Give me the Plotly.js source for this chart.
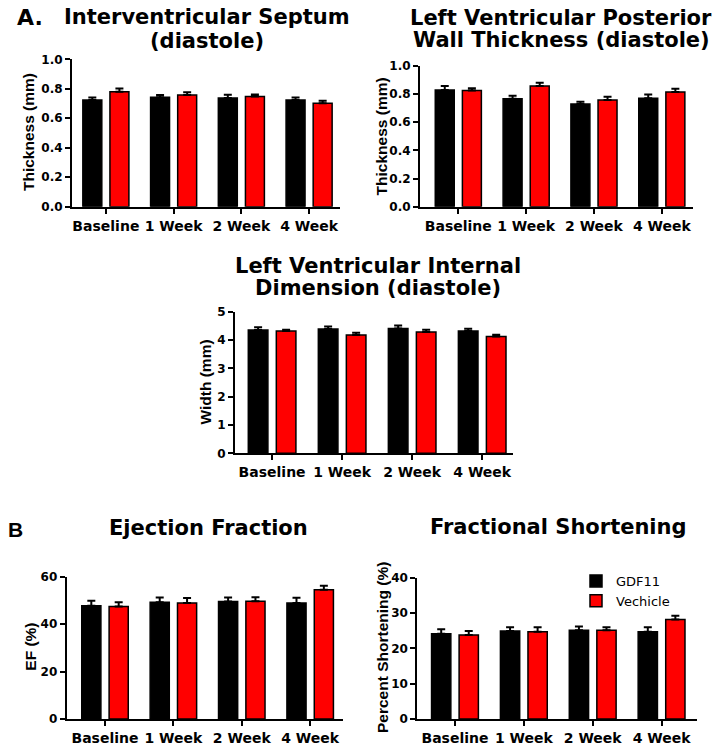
<!DOCTYPE html>
<html><head><meta charset="utf-8">
<script src="https://cdn.plot.ly/plotly-3.0.1.min.js"></script>
<style>html,body{margin:0;padding:0;background:#fff}</style>
</head><body><div id="chart" style="width:721px;height:745px"></div>
<script>
// ---- data ----
const categories = ['Baseline', '1 Week', '2 Week', '4 Week'];
const seriesNames = ['GDF11', 'Vechicle'];
const seriesColors = ['#000000', '#ff0000'];

const ivsGdf11 = [0.724, 0.742, 0.737, 0.724];
const ivsGdf11Err = [0.016, 0.015, 0.022, 0.016];
const ivsVehicle = [0.780, 0.758, 0.748, 0.701];
const ivsVehicleErr = [0.022, 0.018, 0.014, 0.018];

const lvpwGdf11 = [0.829, 0.768, 0.730, 0.770];
const lvpwGdf11Err = [0.028, 0.021, 0.016, 0.028];
const lvpwVehicle = [0.825, 0.858, 0.758, 0.815];
const lvpwVehicleErr = [0.017, 0.023, 0.024, 0.024];

const lvidGdf11 = [4.35, 4.39, 4.41, 4.32];
const lvidGdf11Err = [0.10, 0.09, 0.10, 0.08];
const lvidVehicle = [4.32, 4.18, 4.28, 4.12];
const lvidVehicleErr = [0.04, 0.08, 0.08, 0.07];

const efGdf11 = [47.8, 49.2, 49.5, 48.9];
const efGdf11Err = [2.1, 2.0, 1.7, 2.2];
const efVehicle = [47.4, 48.9, 49.7, 54.5];
const efVehicleErr = [1.8, 2.1, 1.6, 1.7];

const fsGdf11 = [24.1, 24.9, 25.1, 24.7];
const fsGdf11Err = [1.3, 1.1, 1.1, 1.3];
const fsVehicle = [23.8, 24.7, 25.1, 28.2];
const fsVehicleErr = [1.1, 1.3, 0.9, 1.0];

const panelTitles = [
  ['Interventricular Septum', '(diastole)'],
  ['Left Ventricular Posterior', 'Wall Thickness (diastole)'],
  ['Left Ventricular Internal', 'Dimension (diastole)'],
  ['Ejection Fraction'],
  ['Fractional Shortening']
];
const yTitles = ['Thickness (mm)', 'Thickness (mm)', 'Width (mm)', 'EF (%)', 'Percent Shortening (%)'];
const yMax = [1, 1, 5, 60, 40];
const yStep = [0.2, 0.2, 1, 20, 10];
const yFormat = ['.1f', '.1f', 'd', 'd', 'd'];

// ---- layout geometry (pixels) ----
const W = 721, H = 745;
const px = v => v / W;
const py = v => (H - v) / H;
const panels = [
  {x0: 72, x1: 340, y0: 59.3, y1: 206.7, xr: [-0.5, 3.456],
   titleX: 207, titleY: [16.7, 41], yTitleX: 28, yTitleY: 132},
  {x0: 420, x1: 693, y0: 66, y1: 206.7, xr: [-0.565, 3.46],
   titleX: 561, titleY: [17.5, 40], yTitleX: 381.7, yTitleY: 136.7},
  {x0: 235, x1: 513, y0: 311.7, y1: 453.3, xr: [-0.53, 3.44],
   titleX: 377.5, titleY: [265.8, 288], yTitleX: 205, yTitleY: 382.5},
  {x0: 66.7, x1: 343, y0: 576.7, y1: 719, xr: [-0.56, 3.48],
   titleX: 208, titleY: [527.5], yTitleX: 31, yTitleY: 646.7},
  {x0: 417.3, x1: 696.7, y0: 577.7, y1: 719, xr: [-0.547, 3.51],
   titleX: 558, titleY: [527], yTitleX: 382.5, yTitleY: 647.5}
];
const panelData = [
  [[ivsGdf11, ivsGdf11Err], [ivsVehicle, ivsVehicleErr]],
  [[lvpwGdf11, lvpwGdf11Err], [lvpwVehicle, lvpwVehicleErr]],
  [[lvidGdf11, lvidGdf11Err], [lvidVehicle, lvidVehicleErr]],
  [[efGdf11, efGdf11Err], [efVehicle, efVehicleErr]],
  [[fsGdf11, fsGdf11Err], [fsVehicle, fsVehicleErr]]
];

const traces = [];
const layout = {
  width: W, height: H,
  margin: {l: 0, r: 0, t: 0, b: 0},
  paper_bgcolor: '#ffffff', plot_bgcolor: '#ffffff',
  barmode: 'group', bargap: 0.2, bargroupgap: 0.3,
  showlegend: true,
  legend: {
    x: px(576), y: py(566), xanchor: 'left', yanchor: 'top',
    bgcolor: 'rgba(0,0,0,0)', tracegroupgap: 0,
    font: {family: 'DejaVu Sans', size: 13, color: '#000'}
  },
  annotations: [],
  font: {family: 'DejaVu Sans', color: '#000'}
};

panels.forEach((p, i) => {
  const n = i === 0 ? '' : String(i + 1);
  panelData[i].forEach((s, k) => {
    traces.push({
      type: 'bar', name: seriesNames[k], x: categories, y: s[0],
      xaxis: 'x' + n, yaxis: 'y' + n,
      legendgroup: seriesNames[k], showlegend: i === 4,
      marker: {color: seriesColors[k], line: {color: '#000', width: 1.5}},
      error_y: {type: 'data', symmetric: false, array: s[1],
        arrayminus: s[1].map(() => 0), color: '#000', thickness: 2, width: 4},
      hoverinfo: 'x+y'
    });
  });
  layout['xaxis' + n] = {
    domain: [px(p.x0), px(p.x1)], anchor: 'y' + n, type: 'category',
    range: p.xr, showline: true, linewidth: 2, linecolor: '#000',
    ticks: 'outside', ticklen: 5, tickwidth: 2, tickcolor: '#000',
    showgrid: false, zeroline: false, fixedrange: true,
    tickfont: {family: 'DejaVu Sans', size: 14, weight: 'bold', color: '#000'}
  };
  layout['yaxis' + n] = {
    domain: [py(p.y1), py(p.y0)], anchor: 'x' + n,
    range: [0, yMax[i]], dtick: yStep[i], tick0: 0, tickformat: yFormat[i],
    showline: true, linewidth: 2, linecolor: '#000',
    ticks: 'outside', ticklen: 5, tickwidth: 2, tickcolor: '#000',
    showgrid: false, zeroline: false, fixedrange: true,
    tickfont: {family: 'DejaVu Sans', size: 12, weight: 'bold', color: '#000'}
  };
  panelTitles[i].forEach((t, j) => {
    layout.annotations.push({
      text: t, xref: 'paper', yref: 'paper', x: px(p.titleX), y: py(p.titleY[j]),
      xanchor: 'center', yanchor: 'middle', showarrow: false,
      font: {family: 'DejaVu Sans', size: 21, weight: 'bold', color: '#000'}
    });
  });
  layout.annotations.push({
    text: yTitles[i], xref: 'paper', yref: 'paper', x: px(p.yTitleX), y: py(p.yTitleY),
    xanchor: 'center', yanchor: 'middle', textangle: -90, showarrow: false,
    font: {family: 'Arial', size: 15.5, weight: 'bold', color: '#000'}
  });
});

layout.annotations.push({
  text: 'A.', xref: 'paper', yref: 'paper', x: px(15), y: py(17),
  xanchor: 'left', yanchor: 'middle', showarrow: false,
  font: {family: 'DejaVu Sans', size: 22, weight: 'bold', color: '#000'}
});
layout.annotations.push({
  text: 'B', xref: 'paper', yref: 'paper', x: px(6), y: py(529),
  xanchor: 'left', yanchor: 'middle', showarrow: false,
  font: {family: 'Arial', size: 21, weight: 'bold', color: '#000'}
});

Plotly.newPlot('chart', traces, layout, {displayModeBar: false, staticPlot: true});
</script>
</body></html>
